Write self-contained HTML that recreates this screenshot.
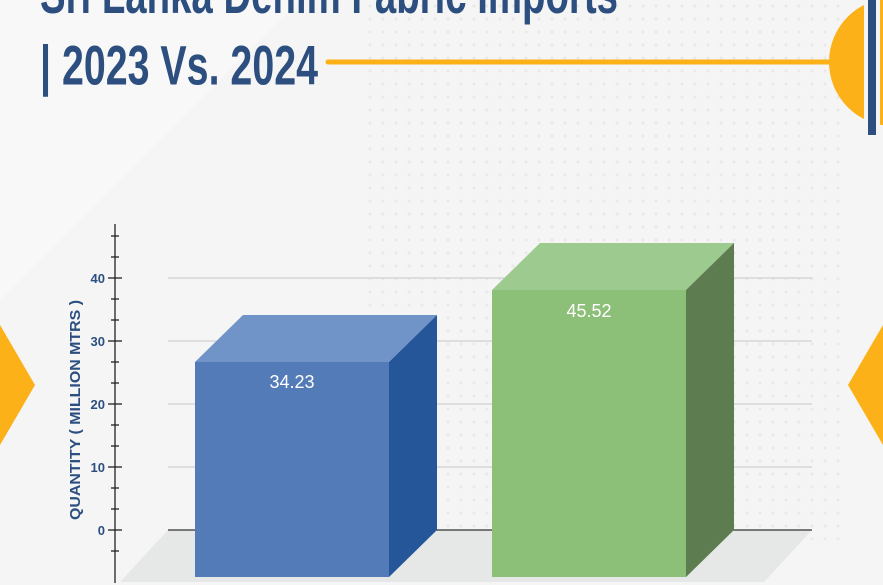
<!DOCTYPE html>
<html><head><meta charset="utf-8"><style>
html,body{margin:0;padding:0;width:883px;height:585px;overflow:hidden;background:#f4f4f4}
</style></head><body>
<svg width="883" height="585" viewBox="0 0 883 585" xmlns="http://www.w3.org/2000/svg" style="display:block">
<defs>
<pattern id="dots" width="13" height="13" patternUnits="userSpaceOnUse"><circle cx="6" cy="6" r="1.6" fill="#e6e6e6"/></pattern>
<clipPath id="cc"><rect x="0" y="0" width="883" height="585"/></clipPath>
</defs>
<rect width="883" height="585" fill="#f5f5f5"/>
<polygon points="0,0 300,0 0,300" fill="#f8f8f8"/>
<rect x="360" y="0" width="480" height="540" fill="url(#dots)" opacity="0.8"/>
<!-- title -->
<g transform="translate(0,0) scale(1,1.2)">
<text x="40" y="11" font-family="'Liberation Sans',sans-serif" font-weight="bold" font-size="46" fill="#2d4f7f" textLength="578" lengthAdjust="spacingAndGlyphs">Sri Lanka Denim Fabric Imports</text>
<text x="40" y="70.5" font-family="'Liberation Sans',sans-serif" font-weight="bold" font-size="46" fill="#2d4f7f" textLength="278" lengthAdjust="spacingAndGlyphs">| 2023 Vs. 2024</text>
</g>
<line x1="328" y1="62" x2="832" y2="62" stroke="#fbb117" stroke-width="5" stroke-linecap="round"/>
<g clip-path="url(#cc)">
<circle cx="893" cy="62" r="64" fill="#fbb117"/>
<rect x="864" y="-5" width="16" height="140" fill="#f5f5f5"/>
<rect x="868" y="-5" width="8" height="140" fill="#2d4f7f"/>
</g>
<polygon points="0,325 35,385 0,445" fill="#fbb117"/>
<polygon points="883,325 848,385 883,445" fill="#fbb117"/>
<!-- floor -->
<polygon points="168,530 812,530 764,582 120,582" fill="#e6e7e7"/>
<!-- grid -->
<g stroke="#c8c8c8" stroke-width="1">
<line x1="168" y1="278" x2="812" y2="278"/><line x1="168" y1="341" x2="812" y2="341"/>
<line x1="168" y1="404" x2="812" y2="404"/><line x1="168" y1="467" x2="812" y2="467"/>
</g>
<line x1="168" y1="530" x2="812" y2="530" stroke="#333" stroke-width="1.3"/>
<!-- axis -->
<g stroke="#222" stroke-width="1.3">
<line x1="115" y1="224" x2="115" y2="583"/>
<line x1="108" y1="278" x2="122" y2="278"/><line x1="108" y1="341" x2="122" y2="341"/>
<line x1="108" y1="404" x2="122" y2="404"/><line x1="108" y1="467" x2="122" y2="467"/>
<line x1="108" y1="530" x2="122" y2="530"/>
<line x1="111" y1="236" x2="119" y2="236"/><line x1="111" y1="257" x2="119" y2="257"/>
<line x1="111" y1="299" x2="119" y2="299"/><line x1="111" y1="320" x2="119" y2="320"/>
<line x1="111" y1="362" x2="119" y2="362"/><line x1="111" y1="383" x2="119" y2="383"/>
<line x1="111" y1="425" x2="119" y2="425"/><line x1="111" y1="446" x2="119" y2="446"/>
<line x1="111" y1="488" x2="119" y2="488"/><line x1="111" y1="509" x2="119" y2="509"/>
<line x1="111" y1="551" x2="119" y2="551"/>
</g>
<g font-family="'Liberation Sans',sans-serif" font-weight="bold" font-size="13" fill="#2d4f7f" text-anchor="end">
<text x="105" y="283">40</text><text x="105" y="346">30</text><text x="105" y="409">20</text><text x="105" y="472">10</text><text x="105" y="535">0</text>
</g>
<text transform="translate(80,410) rotate(-90)" text-anchor="middle" font-family="'Liberation Sans',sans-serif" font-weight="bold" font-size="15" fill="#2d4f7f" textLength="220" lengthAdjust="spacingAndGlyphs">QUANTITY ( MILLION MTRS )</text>
<!-- blue bar -->
<polygon points="195,362 243,315 437,315 389,362" fill="#7094c8"/>
<polygon points="389,362 437,315 437,530 389,577" fill="#245699"/>
<rect x="195" y="362" width="194" height="215" fill="#527bb8"/>
<text x="292" y="388" text-anchor="middle" font-family="'Liberation Sans',sans-serif" font-size="18" fill="#fff">34.23</text>
<!-- green bar -->
<polygon points="492,290 540,243 734,243 686,290" fill="#9dca8f"/>
<polygon points="686,290 734,243 734,530 686,577" fill="#5d7c4f"/>
<rect x="492" y="290" width="194" height="287" fill="#8cbf78"/>
<text x="589" y="317" text-anchor="middle" font-family="'Liberation Sans',sans-serif" font-size="18" fill="#fff">45.52</text>
</svg>
</body></html>
